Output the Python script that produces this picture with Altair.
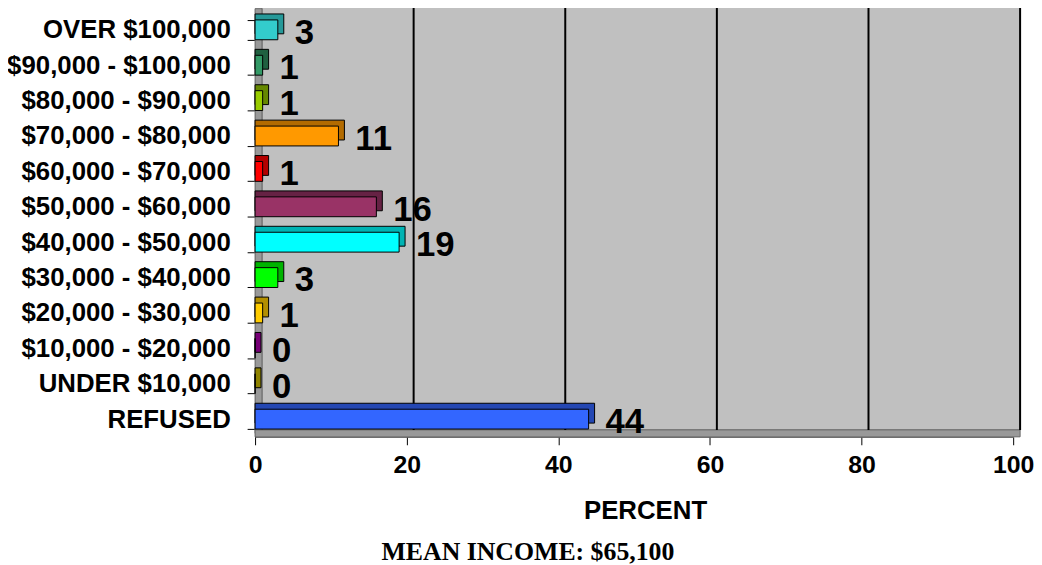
import altair as alt
import pandas as pd

categories = ["OVER $100,000", "$90,000 - $100,000", "$80,000 - $90,000",
              "$70,000 - $80,000", "$60,000 - $70,000", "$50,000 - $60,000",
              "$40,000 - $50,000", "$30,000 - $40,000", "$20,000 - $30,000",
              "$10,000 - $20,000", "UNDER $10,000", "REFUSED"]
values = [3, 1, 1, 11, 1, 16, 19, 3, 1, 0, 0, 44]
front_colors = ["#33CCCC", "#339966", "#99CC00", "#FF9900", "#FF0000", "#993366",
                "#00FFFF", "#00FF00", "#FFCC00", "#AA00AA", "#CCBB00", "#3366FF"]
side_colors = ["#269999", "#206040", "#668800", "#B36B00", "#B30000", "#662244",
               "#00B3B3", "#00B300", "#B38F00", "#770077", "#8F8300", "#2447B3"]
grid_values = [20, 40, 60, 80, 100]
x_ticks = [0, 20, 40, 60, 80, 100]
x_title = "PERCENT"
footer = "MEAN INCOME: $65,100"

W, H = 764, 428
D = 7   # wall depth (px)
B = 6   # bar depth (px)
FONT = "Liberation Sans"

df = pd.DataFrame({"cat": categories, "value": values, "base": [0] * len(values),
                   "front": front_colors, "side": side_colors})
wall = pd.DataFrame({"a": [0], "b": [100]})
grid = pd.DataFrame({"g": grid_values})

xscale = alt.Scale(domain=[0, 100], nice=False, zero=True)
xaxis = alt.Axis(values=x_ticks, title=x_title, grid=False, domainColor="#555555",
                 tickColor="black", tickSize=8, labelPadding=8, labelFlush=False,
                 labelFont=FONT, labelFontSize=25, labelFontWeight="bold", labelColor="black",
                 titleFont=FONT, titleFontSize=26, titleFontWeight="bold", titleColor="black",
                 titlePadding=20, titleX=393)
yaxis = alt.Axis(title=None, domainColor="black", tickColor="black", tickSize=8,
                 tickBand="extent", labelPadding=17, labelLimit=400,
                 labelFont=FONT, labelFontSize=26, labelFontWeight="bold", labelColor="black")
yenc = alt.Y("cat:N", sort=categories, axis=yaxis,
             scale=alt.Scale(paddingInner=0.44, paddingOuter=0.22))

back = alt.Chart(wall).mark_rect(fill="#C0C0C0", stroke="#808080", strokeWidth=1,
                                 xOffset=D, x2Offset=D, yOffset=-D, y2Offset=-D).encode(
    x=alt.X("a:Q", scale=xscale, axis=xaxis), x2="b:Q",
    y=alt.value(0), y2=alt.value(H))

left_wall = alt.Chart(wall).mark_rect(fill="#999999", stroke="#666666", strokeWidth=1,
                                      x2Offset=D, yOffset=-D / 2, y2Offset=-D / 2).encode(
    x=alt.X("a:Q", scale=xscale, axis=xaxis), x2="a:Q",
    y=alt.value(0), y2=alt.value(H))

floor = alt.Chart(wall).mark_rect(fill="#999999", stroke="#666666", strokeWidth=1,
                                  x2Offset=D).encode(
    x=alt.X("a:Q", scale=xscale, axis=xaxis), x2="b:Q",
    y=alt.value(H - D), y2=alt.value(H))

gridlines = alt.Chart(grid).mark_rule(color="black", strokeWidth=2,
                                      xOffset=D, yOffset=-D, y2Offset=-D).encode(
    x=alt.X("g:Q", scale=xscale, axis=xaxis),
    y=alt.value(0), y2=alt.value(H))

shadow = alt.Chart(df).mark_bar(size=20, stroke="black", strokeWidth=1,
                                x2Offset=B, yOffset=-B, y2Offset=-B).encode(
    x=alt.X("base:Q", scale=xscale, axis=xaxis), x2="value:Q",
    y=yenc, color=alt.Color("side:N", scale=None))

front = alt.Chart(df).mark_bar(size=20, stroke="black", strokeWidth=1).encode(
    x=alt.X("base:Q", scale=xscale, axis=xaxis), x2="value:Q",
    y=yenc, color=alt.Color("front:N", scale=None))

labels = alt.Chart(df).mark_text(align="left", baseline="middle", dx=B + 11, dy=3,
                                 font=FONT, fontSize=35, fontWeight="bold",
                                 color="black").encode(
    x=alt.X("value:Q", scale=xscale, axis=xaxis),
    y=yenc, text="value:Q")

chart = alt.layer(back, left_wall, floor, gridlines, shadow, front, labels).properties(
    width=W, height=H,
    autosize=alt.AutoSizeParams(type="none"),
    padding={"left": 249, "top": 2, "right": 21, "bottom": 127},
    title=alt.TitleParams(footer, orient="bottom", anchor="middle", frame="group",
                          font="Liberation Serif", fontSize=26, fontWeight="bold",
                          color="black", dx=-107, offset=16),
).configure_view(strokeWidth=0)

chart.save("out.html", embed_options={"renderer": "svg", "actions": False})
